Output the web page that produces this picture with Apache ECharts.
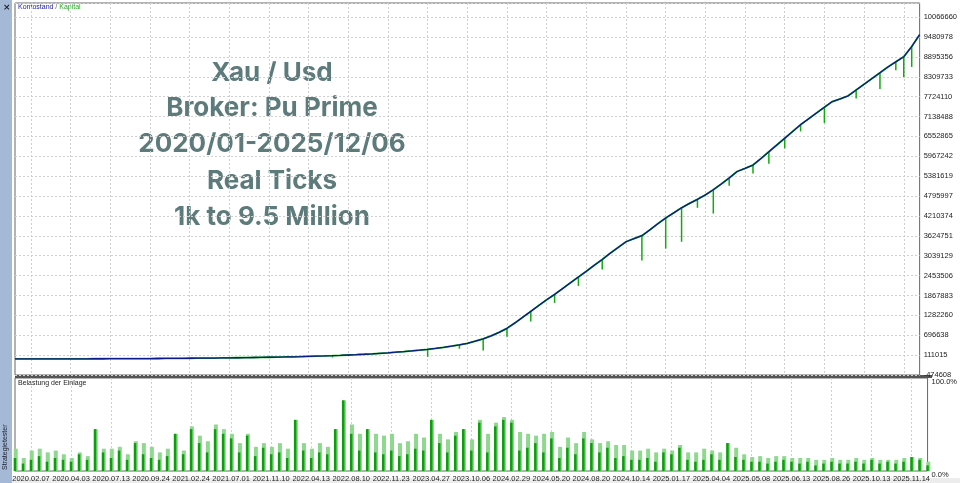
<!DOCTYPE html>
<html>
<head>
<meta charset="utf-8">
<script src="https://cdn.jsdelivr.net/npm/echarts@6/dist/echarts.min.js"></script>
<style>html,body{margin:0;padding:0;background:#fff}#chart{width:960px;height:483px}</style>
</head>
<body>
<div id="chart"></div>
<script>
var dateLabels = ["2020.02.07","2020.04.03","2020.07.13","2020.09.24","2021.02.24","2021.07.01","2021.11.10","2022.04.13","2022.08.10","2022.11.23","2023.04.27","2023.10.06","2024.02.29","2024.05.20","2024.08.20","2024.10.14","2025.01.17","2025.04.04","2025.05.08","2025.06.13","2025.08.26","2025.10.13","2025.11.14"];
var yTickLabels = ["-474608","111015","696638","1282260","1867883","2453506","3039129","3624751","4210374","4795997","5381619","5967242","6552865","7138488","7724110","8309733","8895356","9480978","10066660"];

var kontostand = [
  1000,1100,
  1150,1200,1400,1700,2000,2400,2800,3300,3900,4500,
  5200,6000,6900,7900,9000,10200,11500,13000,14600,16300,
  18200,20200,22400,24800,27400,30200,33300,36600,40200,44000,
  48000,52500,57000,62000,67500,73500,80000,87000,95000,104000,
  114000,125000,137000,150000,165000,180000,197000,215000,235000,258000,
  283000,310000,340000,375000,415000,460000,520000,590000,680000,780000,
  900000,1060000,1230000,1400000,1570000,1740000,1900000,2070000,2240000,2410000,
  2580000,2760000,2930000,3110000,3280000,3450000,3540000,3630000,3800000,3980000,4150000,
  4300000,4450000,4580000,4700000,4830000,4980000,5150000,5330000,5520000,5610000,5710000,
  5900000,6100000,6300000,6500000,6700000,6900000,7070000,7240000,7410000,7580000,7660000,
  7750000,7920000,8090000,8260000,8430000,8600000,8750000,8900000,9200000,9550000
];
// Kapital lows (equity drawdown spikes): [index, low]
var kapitalTief = [
  [40, 40000], [52, 60000], [56, 300000], [59, 250000], [62, 650000], [65, 1100000],
  [68, 1650000], [71, 2150000], [74, 2630000], [79, 2900000], [82, 3250000],
  [84, 3450000], [86, 4450000], [88, 4280000], [90, 5100000], [93, 5460000],
  [95, 5750000], [97, 6200000], [99, 6700000], [102, 6950000], [106, 7670000],
  [109, 7950000], [111, 8500000], [112, 8300000], [113, 8600000]
];
var belastungDunkel = [
  14,8,
  12,16,10,14,12,10,18,12,45,20,
  14,22,12,30,18,14,12,16,40,18,
  45,30,20,45,40,35,20,38,16,25,
  18,20,14,55,22,14,20,18,45,76,
  40,22,45,20,18,22,16,18,24,22,
  55,30,20,38,45,22,52,20,48,55,
  52,22,25,30,20,35,14,25,18,35,
  30,20,25,14,16,12,12,14,10,20,18,
  25,12,10,12,18,12,30,15,12,10,10,
  8,10,12,10,8,10,6,8,10,8,8,
  10,8,12,8,10,8,10,15,12,6
];
var belastungHell = [
  24,14,
  22,24,20,22,18,14,20,16,45,24,
  24,26,18,32,30,26,20,24,40,22,
  48,38,32,50,45,40,30,40,26,30,
  26,30,24,55,30,24,30,26,45,76,
  50,40,45,40,38,40,30,32,40,36,
  55,40,34,42,45,34,55,40,52,58,
  55,42,40,38,40,42,26,36,30,42,
  34,30,32,28,28,22,22,24,20,24,22,
  28,20,20,24,22,20,30,25,18,15,16,
  14,16,16,14,14,14,12,12,14,12,12,
  14,12,14,12,12,12,14,15,14,10
];
var titleLines = ["Xau / Usd","Broker: Pu Prime","2020/01-2025/12/06","Real Ticks","1k to 9.5 Million"];

var yMin = -474608, yStep = 585626;
var cats = kontostand.map(function (v, i) { return i; });
function isLabelIdx(i) { return i >= 2 && (i - 2) % 5 === 0 && (i - 2) / 5 < dateLabels.length; }

// stacked bars: transparent base up to the low, green spike up to the balance
var spikeBase = kontostand.map(function () { return null; });
var spikeLen = kontostand.map(function () { return null; });
kapitalTief.forEach(function (p) {
  spikeBase[p[0]] = p[1];
  spikeLen[p[0]] = kontostand[p[0]] - p[1];
});

var chart = echarts.init(document.getElementById("chart"));
var gridLine = { show: true, lineStyle: { color: "#d0d0d0", type: [2, 2], width: 1 } };
var labelFont = { fontFamily: "Liberation Sans", fontSize: 7.5, color: "#222" };

var graphics = [
  { type: "rect", shape: { x: 0, y: 0, width: 12, height: 483 }, style: { fill: "#a3b9d6" } },
  { type: "text", x: 3, y: 3, style: { text: "×", fill: "#223", font: "bold 9px DejaVu Sans" } },
  { type: "text", x: 2, y: 470, rotation: Math.PI / 2, style: { text: "Strategietester", fill: "#223", font: "7px Liberation Sans" } },
  { type: "rect", shape: { x: 12, y: 478, width: 948, height: 5 }, style: { fill: "#ececec" } },
  { type: "rect", shape: { x: 15, y: 375, width: 917, height: 3 }, style: { fill: "#555" } },
  { type: "text", x: 18, y: 4, style: { rich: { b: { fill: "#1a1a9a" }, s: { fill: "#666" }, g: { fill: "#22aa22" } }, text: "{b|Kontostand} {s|/} {g|Kapital}", font: "7px Liberation Sans" } },
  { type: "text", x: 18, y: 380, style: { text: "Belastung der Einlage", fill: "#222", font: "7px Liberation Sans" } }
];
var lineY = [73, 108, 144, 181, 217];
titleLines.forEach(function (t, i) {
  graphics.push({ type: "text", x: 272, y: lineY[i], style: { text: t, fill: "#5e7b7b", font: "bold 26px Inter", textAlign: "center", textVerticalAlign: "middle" } });
});

var option = {
  animation: false,
  backgroundColor: "#fff",
  grid: [
    { left: 15, right: 28, top: 3, height: 372, show: true, borderColor: "#666", borderWidth: 1 },
    { left: 15, right: 28, top: 378, height: 94, show: true, borderColor: "#666", borderWidth: 1 }
  ],
  xAxis: [
    { type: "category", gridIndex: 0, data: cats, boundaryGap: false,
      axisLine: { show: false }, axisTick: { show: false }, axisLabel: { show: false },
      splitLine: { show: true, interval: function (i) { return isLabelIdx(i); }, lineStyle: gridLine.lineStyle } },
    { type: "category", gridIndex: 1, data: cats, boundaryGap: false,
      axisLine: { show: false }, axisTick: { show: false },
      axisLabel: Object.assign({ interval: function (i) { return isLabelIdx(i); }, margin: 4, hideOverlap: false,
        formatter: function (v) { return dateLabels[(v - 2) / 5] || ""; } }, labelFont),
      splitLine: { show: true, interval: function (i) { return isLabelIdx(i); }, lineStyle: gridLine.lineStyle } }
  ],
  yAxis: [
    { type: "value", gridIndex: 0, position: "right", min: yMin, max: 10483000, interval: yStep,
      axisLine: { show: false }, axisTick: { show: false }, splitLine: gridLine,
      axisLabel: Object.assign({ margin: 4, showMaxLabel: false,
        formatter: function (v) { var k = Math.round((v - yMin) / yStep); return yTickLabels[k] || ""; } }, labelFont) },
    { type: "value", gridIndex: 1, position: "right", min: 0, max: 100, interval: 100,
      axisLine: { show: false }, axisTick: { show: false }, splitLine: { show: false },
      axisLabel: Object.assign({ margin: 4, verticalAlign: "top", formatter: function (v) { return v.toFixed(1) + "%"; } }, labelFont) }
  ],
  series: [
    { type: "bar", stack: "dd", data: spikeBase, barWidth: 1.5, itemStyle: { color: "transparent" }, z: 1 },
    { name: "Kapital", type: "bar", stack: "dd", data: spikeLen, barWidth: 1.5, itemStyle: { color: "#11aa11" }, z: 1 },
    { name: "Kapital line", type: "line", data: kontostand, symbol: "none", lineStyle: { color: "#11aa11", width: 1.8 }, z: 2 },
    { name: "Kontostand", type: "line", data: kontostand, symbol: "none", lineStyle: { color: "#0c1a8c", width: 1.3 }, z: 3 },
    { type: "bar", xAxisIndex: 1, yAxisIndex: 1, data: belastungHell, barWidth: 4, itemStyle: { color: "#8fd88f" } },
    { type: "bar", xAxisIndex: 1, yAxisIndex: 1, data: belastungDunkel, barWidth: 2.5, barGap: "-100%", itemStyle: { color: "#0aa00a" } }
  ],
  graphic: graphics
};
chart.setOption(option);
</script>
</body>
</html>
